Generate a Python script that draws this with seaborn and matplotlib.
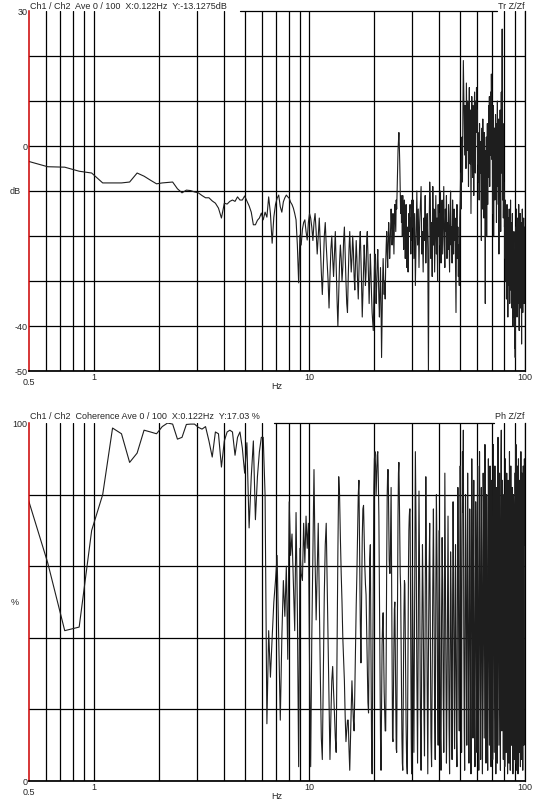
import numpy as np
import pandas as pd
import seaborn as sns
import matplotlib
matplotlib.use("Agg")
import matplotlib.pyplot as plt
import matplotlib.ticker as mticker
import matplotlib.transforms as mtransforms

sns.set_theme(style="white")
plt.rcParams['font.family'] = ['Liberation Sans', 'DejaVu Sans']

# FFT bin width (250 Hz / 2048 lines)
BIN_HZ = 0.1220703

# Transfer Z/Zf in dB, bins 4..81 (0.5 - 10 Hz)
tr_db_a = [-3.3, -4.6, -4.7, -5.6, -6.0, -8.2, -8.2, -8.2, -8.0, -6.0, -6.7, -7.6, -8.4,
           -8.2, -8.1, -8.0, -9.5, -10.4, -9.8, -9.9, -10.2, -10.4, -11.0, -11.5, -11.5,
           -12.2, -12.7, -13.8, -16.0, -12.7, -12.9, -12.3, -12.0, -12.3, -11.3, -12.0,
           -12.0, -11.1, -12.2, -13.3, -14.7, -17.5, -17.5, -16.5, -16.0, -14.9, -16.4,
           -14.7, -15.8, -11.3, -15.0, -21.6, -15.8, -13.0, -11.6, -10.9, -13.5, -14.7,
           -12.4, -11.5, -10.9, -11.3, -11.6, -12.5, -13.0, -13.8, -15.0, -16.4, -22.0,
           -30.4, -19.8, -22.0, -18.5, -17.0, -16.4, -19.0, -20.9, -17.0]
# bins 82..245 (10 - 30 Hz)
tr_db_b = [-15, -16, -18, -21, -17, -15, -19, -24, -20, -16, -22, -28, -33, -27, -20, -17,
           -22, -26, -30, -36, -29, -23, -20, -25, -29, -24, -19, -27, -34, -40, -33, -26,
           -22, -25, -30, -27, -21, -18, -24, -30, -35, -37, -29, -23, -19, -24, -28, -25,
           -20, -23, -29, -32, -26, -21, -25, -30, -34, -28, -22, -19, -25, -31, -38, -33,
           -27, -22, -26, -31, -28, -21, -19, -24, -30, -35, -29, -24, -28, -33, -37, -39,
           -41, -34, -27, -24, -29, -35, -31, -26, -23, -28, -34, -38, -32, -27, -35, -47,
           -38, -30, -25, -29, -33, -30, -34, -26, -22, -19, -24, -27, -21, -17, -20, -25,
           -22, -18, -14, -17, -22, -19, -15, -20, -24, -17, -13, -16, -19, -12, -14, -10,
           -5, -1, 1, 3, 0, -4, -10, -15, -11, -17, -13, -20, -11, -16, -23, -15, -12, -19,
           -25, -17, -13, -20, -27, -18, -24, -28, -20, -15, -19, -14, -13, -18, -24, -16,
           -21, -12]
# every second bin from 246 (30 - 100 Hz)
tr_db_c = [
    # 30-40 Hz
    -18, -12, -25, -15, -31, -20, -10, -22, -14, -27, -17, -13, -9, -24, -19, -28, -16,
    -21, -11, -26, -18, -15, -23, -50, -20, -8, -12, -25, -17, -29, -9, -22, -14, -28,
    -19, -11, -24, -16, -30, -13, -20,
    # 40-50 Hz
    -15, -22, -10, -26, -18, -12, -24, -16, -9, -21, -27, -14, -19, -11, -25, -17, -23,
    -13, -20, -28, -15, -10, -22, -18, -26, -12, -19, -24, -14, -21, -16, -27, -37, -20,
    -13, -25, -18, -29, -22, -31, -16,
    # 50-60 Hz
    -12, -6, -14, -3, 2, -8, 8, 19, 12, 4, -2, 9, 5, -5, 14, 7, -1, 10, 3, -9, 6, 13, 1,
    -4, 8, -15, -3, 11, 4, -7, 9, 2, -11, 6, 12, 0, -6, 10, 3, 13, 5,
    # 60-70 Hz
    8, -4, 3, -8, 2, -12, 5, -3, -6, 1, -10, -21, -2, 4, -14, 6, -7, 0, -16, 3, -5, -11,
    -35, -1, -9, 2, -20, -4, 5, -13, 1, -7, 9, -3, 11, -9, 4, -2, 12, 6, 16,
    # 70-80 Hz
    10, -3, 6, -15, -2, 9, -20, 1, -6, 4, -12, -3, 7, -11, 0, -17, 5, -5, 10, -9, 2, -13,
    6, -24, -1, 4, -7, 8, -4, -19, 1, 12, -6, 3, 26, -3, -12, 5, -16, -8, -14,
    # 80-90 Hz
    -10, -18, -14, -25, -12, -30, -20, -15, -34, -22, -13, -28, -19, -38, -24, -16, -31,
    -21, -14, -27, -35, -18, -25, -12, -32, -22, -29, -17, -36, -24, -15, -30, -40, -21,
    -27, -33, -19, -38, -26, -45, -30,
    # 90-100 Hz
    -47, -25, -18, -33, -22, -14, -29, -38, -20, -26, -16, -35, -23, -30, -13, -27, -41,
    -19, -32, -24, -15, -36, -21, -28, -17, -34, -44, -22, -30, -14, -26, -37, -19, -31,
    -23, -16, -28, -35, -20, -25, -18,
]

# Coherence in %, bins 4..81
coh_a = [80, 61, 42, 43, 70, 80, 98.6, 97, 89, 91.6, 98, 97.5, 97, 99, 100, 99.7, 95.5,
         96, 99.6, 99.7, 99.7, 98.8, 98.3, 99, 95, 90.5, 97.5, 97, 87.7, 95, 97.5, 98,
         97.5, 91, 96, 97.5, 93, 86, 94.5, 70.7, 85, 95, 73, 85, 92, 96, 96, 80, 16, 42,
         29, 40, 50, 56, 63, 40, 17, 40, 56, 46, 60, 34, 78, 63, 69, 55, 42, 75, 48, 4,
         65, 58, 56, 72, 61, 74, 65, 72]
# bins 82..245
coh_b = [33, 4, 40, 63, 87, 62, 45, 58, 72, 50, 30, 12, 6, 30, 52, 66, 72, 55, 40, 22,
         6, 18, 28, 32, 25, 19, 12, 8, 38, 64, 85, 80, 68, 58, 50, 40, 34, 28, 18, 11,
         14, 17, 17, 9, 3, 12, 20, 28, 22, 17, 14, 25, 38, 49, 58, 70, 80, 84, 64, 45,
         33, 52, 68, 76, 77, 68, 60, 55, 52, 42, 31, 22, 19, 42, 62, 66, 40, 12, 2, 30,
         62, 82, 90, 92, 88, 80, 86, 91, 92, 84, 74, 52, 30, 12, 3, 22, 38, 44, 47, 35,
         25, 19, 14, 14, 35, 62, 80, 87, 87, 74, 62, 58, 58, 70, 82, 60, 34, 12, 11, 25,
         38, 48, 50, 36, 20, 9, 8, 30, 55, 74, 86, 89, 80, 68, 58, 54, 40, 24, 12, 5, 3,
         20, 36, 48, 56, 55, 42, 28, 16, 8, 4, 2, 22, 44, 60, 70, 74, 76, 76, 55, 30, 12,
         2, 22]
# every second bin from 246
coh_c = [
    # 30-40 Hz
    60, 35, 8, 48, 92, 70, 30, 5, 42, 81, 55, 18, 3, 38, 66, 50, 22, 7, 45, 85, 60, 28,
    2, 35, 58, 72, 40, 12, 4, 30, 55, 76, 48, 20, 6, 52, 80, 62, 25, 10, 44,
    # 40-50 Hz
    70, 38, 12, 3, 46, 68, 55, 24, 8, 40, 86, 60, 30, 5, 22, 50, 74, 45, 15, 2, 36, 64,
    52, 20, 6, 48, 78, 58, 26, 9, 42, 66, 35, 12, 4, 55, 82, 62, 28, 14, 50,
    # 50-60 Hz
    88, 70, 32, 8, 60, 92, 75, 98, 40, 15, 3, 48, 80, 65, 30, 10, 52, 86, 58, 22, 5, 44,
    76, 62, 25, 2, 40, 90, 72, 35, 12, 58, 84, 50, 18, 4, 46, 78, 66, 28, 8,
    # 60-70 Hz
    60, 88, 54, 20, 3, 42, 92, 70, 30, 6, 50, 82, 64, 26, 2, 38, 86, 74, 45, 12, 58, 94,
    68, 24, 5, 48, 80, 60, 15, 3, 36, 90, 72, 40, 10, 54, 88, 62, 22, 4, 46,
    # 70-80 Hz
    84, 66, 30, 6, 52, 94, 72, 35, 8, 44, 88, 60, 18, 2, 40, 82, 70, 28, 5, 56, 96, 74,
    38, 10, 48, 86, 64, 20, 3, 42, 90, 98, 60, 14, 50, 84, 70, 32, 6, 55, 80,
    # 80-90 Hz
    62, 26, 4, 46, 90, 72, 34, 8, 52, 86, 66, 22, 2, 40, 84, 76, 30, 5, 58, 92, 68, 24,
    3, 44, 88, 70, 36, 10, 50, 82, 64, 18, 2, 38, 80, 74, 28, 6, 54, 86, 60,
    # 90-100 Hz
    30, 5, 48, 94, 70, 26, 3, 42, 88, 66, 20, 2, 52, 90, 76, 34, 8, 46, 84, 62, 18, 4,
    56, 92, 72, 28, 6, 40, 86, 68, 24, 3, 50, 88, 74, 38, 10, 58, 90, 66, 80,
]

top_title = "Ch1 / Ch2  Ave 0 / 100  X:0.122Hz  Y:-13.1275dB"
bot_title = "Ch1 / Ch2  Coherence Ave 0 / 100  X:0.122Hz  Y:17.03 %"


def band(values, first_bin, step=1):
    hz = BIN_HZ * (first_bin + step * np.arange(len(values)))
    return pd.DataFrame({"Hz": hz, "val": values})


tr = pd.concat([band(tr_db_a, 4), band(tr_db_b, 82), band(tr_db_c, 246, 2)])
coh = pd.concat([band(coh_a, 4), band(coh_b, 82), band(coh_c, 246, 2)])

FS = 6.5
fig = plt.figure(figsize=(5.35, 8.05), dpi=100)
ax1 = fig.add_axes([0.0542, 0.5391, 0.9271, 0.4472])
ax2 = fig.add_axes([0.0542, 0.0298, 0.9271, 0.4447])


def style_axis(ax, yticks, ylabels, unit, unit_y, title, tag, line_from, line_to, title_dy):
    ax.set_xscale("log")
    ax.set_xlim(0.5, 100)
    ax.set_ylim(yticks[0], yticks[-1])
    ax.set_xticks([1, 10, 100])
    ax.set_xticklabels(["1", "10", "100"])
    ax.set_xticks([0.6, 0.7, 0.8, 0.9, 2, 3, 4, 5, 6, 7, 8, 9,
                   20, 30, 40, 50, 60, 70, 80, 90], minor=True)
    ax.xaxis.set_minor_formatter(mticker.NullFormatter())
    ax.set_yticks(yticks)
    ax.set_yticklabels(ylabels)
    ax.grid(True, which="both", color="black", lw=0.9)
    ax.yaxis.get_gridlines()[-1].set_visible(False)
    ax.set_axisbelow(True)
    ax.tick_params(which="both", length=0, labelsize=FS, pad=1.2)
    ax.set_xlabel("Hz", fontsize=FS, labelpad=0)
    ax.set_ylabel("")
    ax.spines["left"].set_color("#cc0000")
    ax.spines["left"].set_linewidth(1.1)
    ax.spines["bottom"].set_color("black")
    ax.spines["right"].set_color("black")
    ax.spines["right"].set_linewidth(0.9)
    ax.spines["top"].set_visible(False)
    # top border only where no caption text is
    ax.plot([line_from, line_to], [1, 1], transform=ax.transAxes, color="black",
            lw=0.9, clip_on=False)
    ax.annotate("0.5", xy=(0.5, 0), xycoords=("data", "axes fraction"),
                xytext=(0, -8.3), textcoords="offset points", ha="center",
                va="center", fontsize=FS, annotation_clip=False)
    trans = mtransforms.blended_transform_factory(ax.transAxes, ax.transData)
    ax.text(-0.028, unit_y, unit, transform=trans, ha="center", va="center", fontsize=FS)
    ax.annotate(title, xy=(0, 1), xycoords="axes fraction", xytext=(1.0, title_dy),
                textcoords="offset points", ha="left", va="center", fontsize=FS)
    ax.annotate(tag, xy=(1, 1), xycoords="axes fraction", xytext=(0, title_dy),
                textcoords="offset points", ha="right", va="center", fontsize=FS)


sns.lineplot(data=tr, x="Hz", y="val", ax=ax1, color="#1e1e1e", lw=0.8, estimator=None)
sns.lineplot(data=coh, x="Hz", y="val", ax=ax2, color="#1e1e1e", lw=0.8, estimator=None)

style_axis(ax1, [-50, -40, -30, -20, -10, 0, 10, 20, 30],
           ["-50", "-40", "", "", "", "0", "", "", "30"],
           "dB", -10, top_title, "Tr Z/Zf",
           (240 - 29) / 496, (497 - 29) / 496, 3.3)
style_axis(ax2, [0, 20, 40, 60, 80, 100],
           ["0", "", "", "", "", "100"],
           "%", 50, bot_title, "Ph Z/Zf",
           (274 - 29) / 496, (494 - 29) / 496, 5.0)

fig.savefig("out.png", dpi=100, facecolor="white")
